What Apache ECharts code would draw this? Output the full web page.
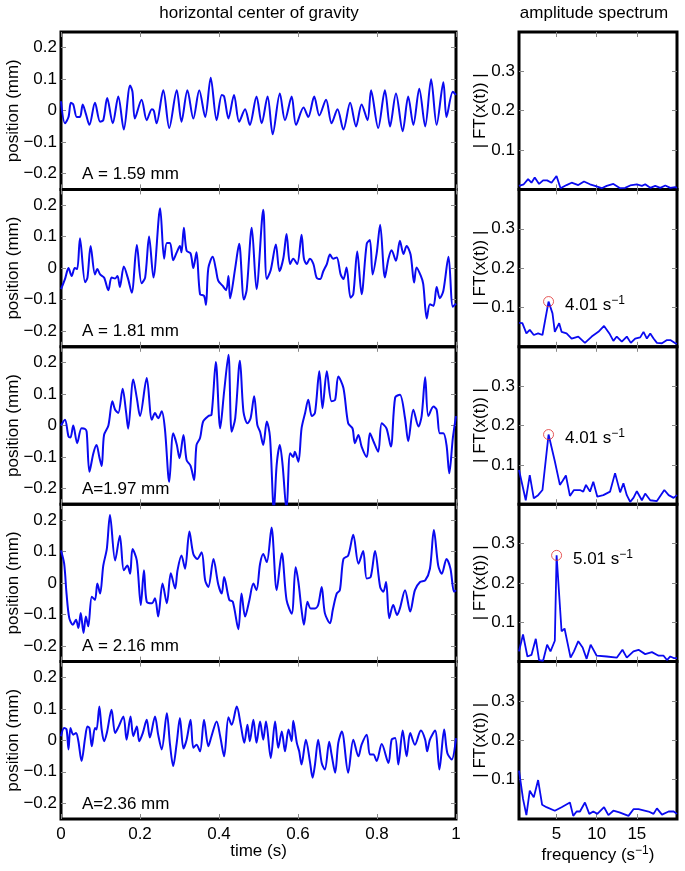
<!DOCTYPE html>
<html><head><meta charset="utf-8">
<script src="https://cdn.jsdelivr.net/npm/echarts@6/dist/echarts.min.js"></script>
<style>html,body{margin:0;padding:0;background:#fff}#c{width:685px;height:871px}</style>
</head><body><div id="c"></div>
<script>
// ---------------- data ----------------
const ampLabels = ['A = 1.59 mm', 'A = 1.81 mm', 'A=1.97 mm', 'A = 2.16 mm', 'A=2.36 mm'];
const timeTicks = [0, 0.2, 0.4, 0.6, 0.8, 1];
const posTicks = [-0.2, -0.1, 0, 0.1, 0.2];
const ampTicks = [0.1, 0.2, 0.3];
const freqTicks = [5, 10, 15];
const peakFreq = [null, 4.01, 4.01, 5.01, null];
const peakAmp = [null, 0.115, 0.177, 0.27, null];

// horizontal centre of gravity, [time s, position mm]
const trace1 = [[0.000,0.03],[0.010,-0.04],[0.019,-0.02],[0.025,0.025],[0.031,0.02],[0.040,-0.02],[0.048,-0.02],[0.055,0.02],[0.063,-0.01],[0.072,-0.045],[0.086,0.025],[0.099,-0.035],[0.107,-0.03],[0.117,0.04],[0.131,-0.04],[0.145,0.045],[0.159,-0.06],[0.175,0.08],[0.181,0.06],[0.187,-0.025],[0.204,0.035],[0.217,-0.03],[0.230,0.005],[0.235,0.0],[0.242,-0.04],[0.259,0.065],[0.274,-0.055],[0.293,0.065],[0.305,-0.035],[0.320,0.065],[0.335,-0.025],[0.350,0.065],[0.365,-0.02],[0.379,0.105],[0.394,-0.03],[0.407,0.05],[0.413,0.045],[0.424,-0.025],[0.438,0.05],[0.451,-0.035],[0.466,0.005],[0.478,-0.045],[0.495,0.045],[0.508,-0.04],[0.523,0.045],[0.536,-0.075],[0.554,0.055],[0.567,-0.03],[0.584,0.045],[0.595,-0.045],[0.614,0.01],[0.626,-0.02],[0.641,0.045],[0.654,-0.015],[0.671,0.035],[0.685,-0.04],[0.700,0.005],[0.715,-0.06],[0.732,0.025],[0.747,-0.05],[0.761,0.02],[0.776,-0.03],[0.785,0.065],[0.803,-0.055],[0.820,0.065],[0.833,-0.05],[0.848,0.055],[0.865,-0.065],[0.879,0.045],[0.892,-0.045],[0.907,0.07],[0.922,-0.05],[0.937,0.1],[0.951,-0.045],[0.968,0.09],[0.976,-0.02],[0.992,0.06],[1.000,0.05]];
const trace2 = [[0.000,-0.067],[0.010,-0.035],[0.019,0],[0.027,-0.025],[0.035,0],[0.041,-0.003],[0.048,0.095],[0.061,-0.045],[0.067,-0.03],[0.075,0.07],[0.086,-0.02],[0.092,-0.003],[0.099,-0.02],[0.109,-0.03],[0.120,-0.07],[0.128,-0.03],[0.137,-0.033],[0.143,-0.025],[0.149,-0.06],[0.159,0.005],[0.170,-0.035],[0.179,-0.078],[0.192,0.073],[0.204,-0.048],[0.213,-0.03],[0.223,0.1],[0.234,-0.03],[0.251,0.19],[0.261,0.03],[0.268,0.08],[0.276,0.08],[0.284,0.025],[0.293,0.05],[0.301,0.07],[0.305,0.05],[0.311,0.128],[0.318,0.055],[0.328,0.047],[0.335,0],[0.343,0.05],[0.352,-0.083],[0.362,-0.088],[0.367,-0.117],[0.373,0],[0.384,0.036],[0.392,-0.003],[0.398,-0.04],[0.409,-0.056],[0.418,-0.07],[0.424,-0.025],[0.428,-0.096],[0.441,0],[0.451,0.077],[0.463,-0.1],[0.470,-0.07],[0.483,0.128],[0.495,-0.067],[0.512,0.185],[0.521,-0.035],[0.531,-0.006],[0.544,0.075],[0.553,-0.01],[0.563,0.032],[0.571,0.108],[0.580,0.013],[0.588,0.03],[0.598,0.013],[0.609,0.106],[0.615,0.03],[0.622,0.013],[0.630,0.03],[0.639,0.013],[0.647,-0.03],[0.656,-0.035],[0.664,-0.01],[0.673,0.013],[0.681,0.043],[0.689,0.03],[0.698,0.034],[0.708,-0.02],[0.715,-0.035],[0.723,0.002],[0.733,-0.094],[0.740,-0.083],[0.750,0.053],[0.761,-0.083],[0.774,0.077],[0.782,0.089],[0.789,-0.02],[0.799,0.045],[0.808,0.138],[0.820,-0.03],[0.829,0.03],[0.837,0.057],[0.848,0.023],[0.858,0.087],[0.867,0.045],[0.875,0.07],[0.885,0.043],[0.894,-0.046],[0.900,0.002],[0.911,-0.025],[0.917,-0.05],[0.926,-0.16],[0.934,-0.115],[0.943,-0.12],[0.951,-0.06],[0.959,-0.096],[0.968,-0.072],[0.981,0.036],[0.992,-0.123],[1.000,-0.113]];
const trace3 = [[0.000,0],[0.010,0.018],[0.019,-0.035],[0.024,-0.038],[0.031,0],[0.041,-0.056],[0.052,-0.009],[0.061,-0.011],[0.065,-0.02],[0.072,-0.147],[0.082,-0.088],[0.090,-0.062],[0.097,-0.1],[0.103,-0.129],[0.109,-0.03],[0.120,0],[0.130,0.077],[0.137,0.05],[0.145,0.04],[0.156,0.117],[0.165,0.04],[0.170,-0.01],[0.183,0.146],[0.192,0.087],[0.200,0.03],[0.217,0.151],[0.230,0.018],[0.238,0.04],[0.246,0.023],[0.255,0.045],[0.263,-0.01],[0.274,-0.179],[0.284,-0.025],[0.293,-0.06],[0.300,-0.104],[0.310,-0.03],[0.318,-0.11],[0.328,-0.128],[0.337,-0.173],[0.343,-0.062],[0.352,-0.04],[0.360,0.013],[0.373,0.03],[0.381,0.034],[0.392,0.202],[0.403,-0.009],[0.413,0.108],[0.424,0.225],[0.432,-0.02],[0.441,0.023],[0.453,0.206],[0.462,0.043],[0.472,0.007],[0.480,0.023],[0.489,0.093],[0.497,0.002],[0.504,-0.02],[0.512,-0.062],[0.521,0.013],[0.529,-0.035],[0.539,-0.27],[0.546,-0.125],[0.554,-0.062],[0.561,-0.125],[0.571,-0.27],[0.580,-0.088],[0.588,-0.1],[0.592,-0.083],[0.601,-0.115],[0.609,-0.009],[0.618,0.04],[0.626,0.082],[0.635,0.03],[0.643,0.04],[0.654,0.172],[0.662,0.055],[0.673,0.172],[0.685,0.077],[0.694,0.082],[0.702,0.156],[0.715,0.119],[0.727,0.007],[0.738,-0.009],[0.744,-0.056],[0.753,-0.03],[0.761,-0.067],[0.774,-0.1],[0.782,-0.025],[0.791,-0.05],[0.803,-0.083],[0.812,0.007],[0.824,-0.009],[0.835,-0.067],[0.846,0.089],[0.858,0.098],[0.871,0.023],[0.879,-0.05],[0.892,0.05],[0.905,-0.003],[0.913,0.03],[0.922,0.153],[0.930,0.03],[0.943,0.06],[0.951,0.05],[0.959,-0.025],[0.968,-0.025],[0.976,-0.062],[0.983,-0.152],[0.992,-0.04],[1.000,0.03]];
const trace4 = [[0.000,0.103],[0.008,0.061],[0.014,-0.034],[0.021,-0.112],[0.030,-0.133],[0.038,-0.117],[0.044,-0.143],[0.050,-0.096],[0.057,-0.159],[0.063,-0.107],[0.069,-0.138],[0.078,-0.044],[0.086,-0.054],[0.092,-0.002],[0.099,-0.034],[0.107,0.055],[0.116,0.108],[0.124,0.216],[0.137,0.071],[0.149,0.15],[0.159,0.04],[0.168,0.055],[0.175,0.029],[0.181,0.108],[0.192,0.071],[0.202,-0.07],[0.210,0.04],[0.217,-0.06],[0.230,-0.065],[0.238,-0.049],[0.246,-0.107],[0.257,-0.002],[0.268,-0.065],[0.278,0.031],[0.289,-0.018],[0.295,0.04],[0.305,0.087],[0.314,0.045],[0.325,0.163],[0.335,0.092],[0.345,0.076],[0.356,0.097],[0.365,0.008],[0.373,-0.013],[0.386,0.076],[0.398,-0.004],[0.407,-0.034],[0.413,0.019],[0.426,-0.054],[0.435,-0.06],[0.449,-0.147],[0.457,-0.034],[0.466,-0.107],[0.477,-0.054],[0.487,-0.002],[0.495,-0.023],[0.504,0.061],[0.512,0.092],[0.521,0.066],[0.533,0.176],[0.546,-0.023],[0.559,0.094],[0.571,-0.054],[0.584,-0.098],[0.594,0.05],[0.601,0.003],[0.609,-0.086],[0.615,-0.133],[0.624,-0.06],[0.632,-0.081],[0.643,-0.081],[0.651,-0.07],[0.660,-0.013],[0.668,-0.096],[0.681,-0.128],[0.688,-0.086],[0.698,-0.034],[0.706,-0.023],[0.715,0.076],[0.727,0.087],[0.740,0.153],[0.753,0.061],[0.765,0.101],[0.774,0.014],[0.784,0.019],[0.795,0.101],[0.808,-0.013],[0.816,-0.028],[0.823,0.003],[0.831,-0.112],[0.841,-0.07],[0.851,-0.102],[0.858,-0.081],[0.871,-0.023],[0.884,-0.091],[0.896,-0.023],[0.909,0.003],[0.922,0.008],[0.934,0.045],[0.944,0.168],[0.955,0.055],[0.964,0.029],[0.976,0.076],[0.986,0.045],[0.995,-0.028],[1.000,-0.023]];
const trace5 = [[0.000,0.013],[0.008,0.039],[0.014,0.035],[0.019,-0.029],[0.024,0.039],[0.031,0.018],[0.038,0.023],[0.044,-0.003],[0.052,-0.066],[0.061,0.007],[0.067,0.044],[0.072,0.039],[0.078,-0.019],[0.086,0.039],[0.090,0.034],[0.097,0.107],[0.103,0.034],[0.109,-0.003],[0.116,0.023],[0.128,0.097],[0.137,0.023],[0.145,0.041],[0.158,0.076],[0.166,0.002],[0.176,0.076],[0.183,0.013],[0.192,0.044],[0.198,-0.003],[0.207,0.023],[0.217,0.065],[0.225,0.009],[0.238,0.076],[0.246,0.018],[0.255,-0.029],[0.268,0.086],[0.276,-0.014],[0.284,-0.082],[0.293,-0.008],[0.301,0.071],[0.310,-0.026],[0.318,0.002],[0.328,0.065],[0.335,-0.024],[0.343,-0.014],[0.352,-0.035],[0.362,0.065],[0.373,-0.019],[0.381,0.013],[0.394,0.06],[0.403,0.013],[0.413,-0.051],[0.424,0.073],[0.432,0.049],[0.445,0.107],[0.455,0.049],[0.464,-0.008],[0.472,0.049],[0.478,-0.003],[0.487,0.065],[0.495,-0.008],[0.504,0.06],[0.512,0.002],[0.519,0.06],[0.531,-0.056],[0.542,0.06],[0.550,-0.024],[0.559,0.028],[0.567,-0.035],[0.576,0.034],[0.584,-0.003],[0.588,0.062],[0.597,-0.008],[0.603,-0.035],[0.609,-0.077],[0.620,0.002],[0.630,-0.066],[0.637,-0.119],[0.643,-0.077],[0.651,0.002],[0.660,-0.072],[0.668,-0.093],[0.679,-0.005],[0.685,-0.045],[0.694,-0.103],[0.702,-0.008],[0.711,0.028],[0.727,-0.103],[0.740,0.002],[0.753,-0.051],[0.761,-0.014],[0.774,0.018],[0.782,-0.045],[0.791,-0.045],[0.799,-0.066],[0.812,-0.012],[0.829,-0.072],[0.837,0.002],[0.846,0.007],[0.854,-0.077],[0.865,0.031],[0.875,-0.051],[0.884,0.023],[0.896,-0.014],[0.911,0.031],[0.922,0.002],[0.927,-0.035],[0.934,0.002],[0.947,0.031],[0.958,-0.093],[0.970,0.034],[0.978,-0.04],[0.989,-0.061],[1.000,0.007]];

// amplitude spectra, [frequency 1/s, |FT|]
const spec1 = [[0.33,0.009],[0.92,0.013],[1.46,0.026],[1.88,0.017],[2.29,0.03],[2.83,0.014],[3.33,0.023],[3.83,0.023],[4.38,0.017],[5.0,0.034],[5.5,0.003],[6.25,0.011],[6.88,0.017],[7.71,0.011],[8.42,0.02],[9.17,0.013],[9.79,0.009],[10.63,0.003],[11.25,0.009],[12.08,0.014],[12.92,0.003],[13.54,0.004],[14.17,0.01],[15.0,0.013],[15.63,0.009],[16.04,0.013],[16.67,0.004],[17.29,0.009],[17.92,0.004],[18.54,0.01],[19.17,0.004],[19.79,0.006],[20.0,0.004]];
const spec2 = [[0.33,0.061],[0.75,0.06],[1.25,0.034],[1.67,0.043],[2.17,0.03],[2.71,0.034],[3.25,0.03],[3.67,0.077],[4.01,0.115],[4.5,0.085],[4.79,0.038],[5.33,0.06],[5.63,0.038],[6.25,0.034],[6.88,0.021],[7.71,0.026],[8.54,0.01],[9.38,0.026],[10.21,0.038],[10.92,0.053],[11.58,0.034],[12.08,0.015],[12.5,0.026],[13.13,0.013],[13.75,0.026],[14.25,0.01],[14.79,0.021],[15.42,0.024],[15.83,0.038],[16.25,0.021],[16.67,0.034],[17.08,0.021],[17.5,0.01],[18.13,0.009],[18.75,0.017],[19.17,0.017],[19.79,0.009],[20.0,0.008]];
const spec3 = [[0.33,0.087],[1.17,0.01],[1.67,0.074],[2.17,0.015],[2.71,0.023],[3.25,0.036],[4.01,0.177],[4.79,0.109],[5.42,0.049],[5.75,0.059],[6.17,0.073],[6.67,0.021],[7.17,0.036],[7.92,0.036],[8.33,0.032],[8.67,0.049],[9.17,0.032],[9.58,0.057],[10.08,0.019],[10.83,0.023],[11.67,0.032],[12.29,0.079],[12.92,0.03],[13.33,0.053],[13.75,0.023],[14.17,0.006],[14.58,0.016],[15.0,0.033],[15.63,0.01],[16.04,0.027],[16.67,0.01],[17.5,0.008],[18.42,0.036],[18.96,0.023],[19.58,0.016],[20.0,0.023]];
const spec4 = [[0.33,0.026],[0.83,0.069],[1.38,0.013],[1.88,0.017],[2.42,0.058],[2.83,0.004],[3.33,0.002],[3.83,0.043],[4.25,0.026],[4.79,0.053],[5.01,0.27],[5.63,0.077],[6.0,0.084],[6.75,0.01],[7.17,0.026],[7.71,0.052],[8.25,0.036],[8.75,0.007],[9.25,0.043],[10.0,0.015],[11.25,0.013],[12.5,0.01],[13.21,0.03],[13.75,0.01],[14.58,0.026],[15.21,0.03],[16.04,0.019],[16.88,0.024],[17.71,0.015],[18.33,0.015],[18.75,0.004],[19.17,0.013],[19.58,0.009],[20.0,0.009]];
const spec5 = [[0.33,0.123],[0.83,0.051],[1.25,0.01],[1.67,0.072],[2.17,0.055],[2.71,0.099],[3.21,0.036],[3.75,0.03],[4.79,0.021],[5.63,0.03],[6.67,0.042],[7.08,0.008],[7.5,0.019],[7.92,0.019],[8.54,0.042],[9.08,0.013],[9.58,0.019],[10.08,0.013],[10.92,0.03],[11.46,0.01],[12.08,0.021],[12.83,0.017],[13.96,0.008],[14.58,0.025],[15.21,0.025],[16.46,0.019],[17.08,0.013],[17.5,0.027],[18.13,0.011],[18.96,0.019],[19.58,0.019],[20.0,0.013]];

const traces = [trace1, trace2, trace3, trace4, trace5];
const spectra = [spec1, spec2, spec3, spec4, spec5];

// ---------------- layout / style ----------------
const FONT = '"Liberation Sans", Arial, Helvetica, sans-serif';
const FS = 17;
const TOP = 32, H = 157.4;
const LX = 61, LW = 395, RX = 519, RW = 158;
const BLUE = '#0a0af0';
const tickStyle = { show: true, inside: true, length: 5, lineStyle: { color: '#888', width: 1 } };
const noLine = { show: false, onZero: false };
const fmtPos = v => v === 0 ? '0' : (v < 0 ? '\u2212' : '') + Math.abs(v);
const txt = { fontFamily: FONT, fontSize: FS, color: '#000' };
const supRich = { a: { fontFamily: FONT, fontSize: FS, color: '#000' }, s: { fontFamily: FONT, fontSize: 12, color: '#000', padding: [0, 0, 9, 0] } };

const grid = [], xAxis = [], yAxis = [], series = [], graphic = [];
const gridBase = { show: true, borderColor: '#000', borderWidth: 3, backgroundColor: 'transparent', containLabel: false, outerBoundsMode: 'none' };
for (let i = 0; i < 5; i++) {
  grid.push(Object.assign({ left: LX, top: TOP + i * H, width: LW, height: H }, gridBase));
}
for (let i = 0; i < 5; i++) {
  grid.push(Object.assign({ left: RX, top: TOP + i * H, width: RW, height: H }, gridBase));
}
const last = 4;
// left panels
for (let i = 0; i < 5; i++) {
  xAxis.push({ type: 'value', gridIndex: i, min: 0, max: 1, position: 'bottom',
    axisLine: noLine, splitLine: { show: false },
    axisTick: Object.assign({ customValues: timeTicks }, tickStyle),
    axisLabel: Object.assign({ show: i === last, customValues: timeTicks, formatter: v => String(v), margin: 7 }, txt),
    name: i === last ? 'time (s)' : '', nameLocation: 'middle', nameGap: 24, nameMoveOverlap: false, nameTextStyle: txt });
  xAxis.push({ type: 'value', gridIndex: i, min: 0, max: 1, position: 'top',
    axisLine: noLine, splitLine: { show: false },
    axisTick: Object.assign({ customValues: timeTicks }, tickStyle), axisLabel: { show: false } });
  yAxis.push({ type: 'value', gridIndex: i, min: -0.25, max: 0.25, position: 'left',
    axisLine: noLine, splitLine: { show: false },
    axisTick: Object.assign({ customValues: posTicks }, tickStyle),
    axisLabel: Object.assign({ customValues: posTicks, formatter: fmtPos, margin: 4 }, txt),
    name: 'position (mm)', nameLocation: 'middle', nameGap: 39, nameRotate: 90, nameMoveOverlap: false, nameTextStyle: txt });
  yAxis.push({ type: 'value', gridIndex: i, min: -0.25, max: 0.25, position: 'right',
    axisLine: noLine, splitLine: { show: false },
    axisTick: Object.assign({ customValues: posTicks }, tickStyle), axisLabel: { show: false } });
}
// right panels
for (let i = 0; i < 5; i++) {
  const g = 5 + i;
  xAxis.push({ type: 'value', gridIndex: g, min: 0.33, max: 20, position: 'bottom',
    axisLine: noLine, splitLine: { show: false },
    axisTick: Object.assign({ customValues: freqTicks }, tickStyle),
    axisLabel: Object.assign({ show: i === last, customValues: freqTicks, margin: 7 }, txt),
    name: i === last ? '{a|frequency (s}{s|\u22121}{a|)}' : '', nameLocation: 'middle', nameGap: 26, nameMoveOverlap: false,
    nameTextStyle: Object.assign({ rich: supRich }, txt) });
  xAxis.push({ type: 'value', gridIndex: g, min: 0.33, max: 20, position: 'top',
    axisLine: noLine, splitLine: { show: false },
    axisTick: Object.assign({ customValues: freqTicks }, tickStyle), axisLabel: { show: false } });
  yAxis.push({ type: 'value', gridIndex: g, min: 0, max: 0.4, position: 'left',
    axisLine: noLine, splitLine: { show: false },
    axisTick: Object.assign({ customValues: ampTicks }, tickStyle),
    axisLabel: Object.assign({ customValues: ampTicks, formatter: v => String(v), margin: 4 }, txt),
    name: '| FT(x(t)) |', nameLocation: 'middle', nameGap: 30, nameRotate: 90, nameMoveOverlap: false, nameTextStyle: txt });
  yAxis.push({ type: 'value', gridIndex: g, min: 0, max: 0.4, position: 'right',
    axisLine: noLine, splitLine: { show: false },
    axisTick: Object.assign({ customValues: ampTicks }, tickStyle), axisLabel: { show: false } });
}

for (let i = 0; i < 5; i++) {
  series.push({ type: 'line', xAxisIndex: 2 * i, yAxisIndex: 2 * i, data: traces[i],
    showSymbol: false, symbol: 'none', clip: true, smooth: 0.3, lineStyle: { color: BLUE, width: 2 }, z: 3 });
  series.push({ type: 'line', xAxisIndex: 10 + 2 * i, yAxisIndex: 10 + 2 * i, data: spectra[i],
    showSymbol: false, symbol: 'none', clip: true, lineStyle: { color: BLUE, width: 1.8 }, z: 3 });
  if (peakFreq[i] !== null) {
    series.push({ type: 'scatter', xAxisIndex: 10 + 2 * i, yAxisIndex: 10 + 2 * i,
      data: [[peakFreq[i], peakAmp[i]]], symbol: 'circle', symbolSize: 10, z: 4,
      itemStyle: { color: 'rgba(0,0,0,0)', borderColor: '#e03030', borderWidth: 0.8, opacity: 1 },
      label: { show: true, position: 'right', distance: 11, offset: [0, 4], opacity: 1, color: '#000',
        formatter: p => '{a|' + p.value[0].toFixed(2) + ' s}{s|\u22121}', rich: supRich } });
  }
  graphic.push({ type: 'text', x: 82, y: TOP + (i + 1) * H - 15,
    style: { text: ampLabels[i], font: FS + 'px ' + FONT, fill: '#000', verticalAlign: 'middle' } });
}
graphic.push({ type: 'text', x: 259, y: 13, style: { text: 'horizontal center of gravity', font: FS + 'px ' + FONT, fill: '#000', align: 'center', verticalAlign: 'middle' } });
graphic.push({ type: 'text', x: 594, y: 13, style: { text: 'amplitude spectrum', font: FS + 'px ' + FONT, fill: '#000', align: 'center', verticalAlign: 'middle' } });

const chart = echarts.init(document.getElementById('c'), null, { renderer: 'canvas' });
chart.setOption({ animation: false, backgroundColor: '#fff', grid, xAxis, yAxis, series, graphic });
</script></body></html>
